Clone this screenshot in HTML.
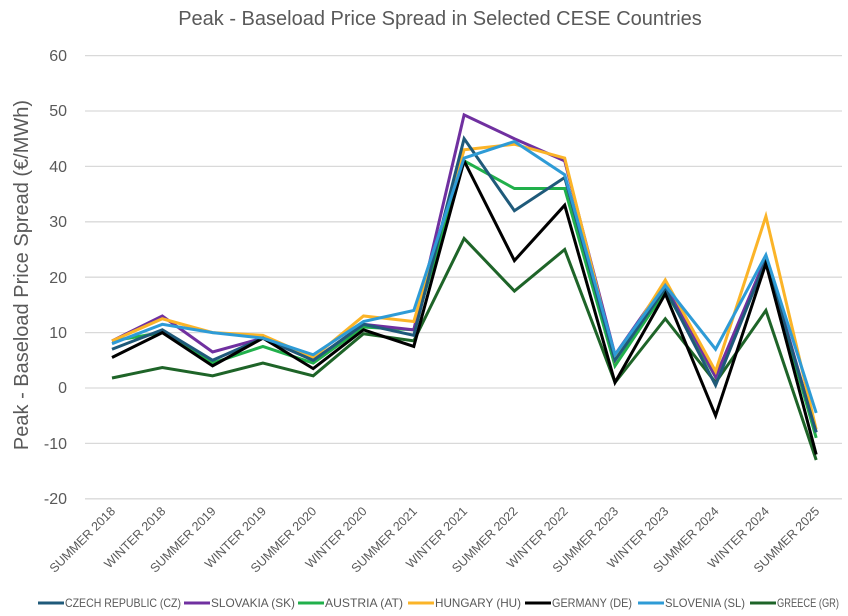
<!DOCTYPE html>
<html><head><meta charset="utf-8"><style>body{margin:0;background:#fff}svg{display:block}</style></head><body>
<svg width="848" height="616" xmlns="http://www.w3.org/2000/svg" font-family="Liberation Sans, sans-serif">
<rect width="848" height="616" fill="#fff"/>
<text x="440" y="25" text-anchor="middle" font-size="20" fill="#595959">Peak - Baseload Price Spread in Selected CESE Countries</text>
<text transform="translate(28,275) rotate(-90)" text-anchor="middle" font-size="20" fill="#595959">Peak - Baseload Price Spread (€/MWh)</text>
<g stroke="#d9d9d9" stroke-width="1.3">
<line x1="85" x2="842" y1="55.6" y2="55.6"/><line x1="85" x2="842" y1="111" y2="111"/><line x1="85" x2="842" y1="166.4" y2="166.4"/><line x1="85" x2="842" y1="221.8" y2="221.8"/><line x1="85" x2="842" y1="277.2" y2="277.2"/><line x1="85" x2="842" y1="332.6" y2="332.6"/><line x1="85" x2="842" y1="388" y2="388"/><line x1="85" x2="842" y1="443.4" y2="443.4"/><line x1="85" x2="842" y1="498.8" y2="498.8"/>
</g>
<g font-size="16" fill="#595959" text-anchor="end">
<text x="67" y="61">60</text><text x="67" y="116">50</text><text x="67" y="172">40</text><text x="67" y="227">30</text><text x="67" y="283">20</text><text x="67" y="338">10</text><text x="67" y="393">0</text><text x="67" y="449">-10</text><text x="67" y="504">-20</text>
</g>
<g id="xl" font-size="12.5" fill="#595959" text-anchor="end"></g>
<g id="lines" fill="none" stroke-width="3" stroke-linejoin="miter"></g>
<g font-size="12" fill="#595959">
<line x1="38" x2="64" y1="603" y2="603" stroke="#1f5a7a" stroke-width="3"/><text x="65" y="607" textLength="116" lengthAdjust="spacingAndGlyphs">CZECH REPUBLIC (CZ)</text>
<line x1="184" x2="210" y1="603" y2="603" stroke="#7030a0" stroke-width="3"/><text x="211" y="607" textLength="84" lengthAdjust="spacingAndGlyphs">SLOVAKIA (SK)</text>
<line x1="298" x2="324" y1="603" y2="603" stroke="#21b04b" stroke-width="3"/><text x="325" y="607" textLength="78" lengthAdjust="spacingAndGlyphs">AUSTRIA (AT)</text>
<line x1="408" x2="434" y1="603" y2="603" stroke="#fbb428" stroke-width="3"/><text x="435" y="607" textLength="86" lengthAdjust="spacingAndGlyphs">HUNGARY (HU)</text>
<line x1="525" x2="551" y1="603" y2="603" stroke="#000" stroke-width="3"/><text x="552" y="607" textLength="80" lengthAdjust="spacingAndGlyphs">GERMANY (DE)</text>
<line x1="638" x2="664" y1="603" y2="603" stroke="#2e9bd6" stroke-width="3"/><text x="665" y="607" textLength="80" lengthAdjust="spacingAndGlyphs">SLOVENIA (SL)</text>
<line x1="750" x2="776" y1="603" y2="603" stroke="#1e6428" stroke-width="3"/><text x="777" y="607" textLength="62" lengthAdjust="spacingAndGlyphs">GREECE (GR)</text>
</g>
</svg>
<script>
const cats=["SUMMER 2018","WINTER 2018","SUMMER 2019","WINTER 2019","SUMMER 2020","WINTER 2020","SUMMER 2021","WINTER 2021","SUMMER 2022","WINTER 2022","SUMMER 2023","WINTER 2023","SUMMER 2024","WINTER 2024","SUMMER 2025"];
const X=i=>112+i*50.3, Y=v=>388-5.54*v;
const ns="http://www.w3.org/2000/svg";
const xl=document.getElementById('xl');
cats.forEach((c,i)=>{const t=document.createElementNS(ns,'text');const x=X(i)+4,y=512;t.setAttribute('transform',`translate(${x},${y}) rotate(-45)`);t.textContent=c;xl.appendChild(t);});
const S=[
["#1e6428",[1.8,3.7,2.2,4.5,2.2,9.8,8.5,27,17.5,25,1,12.5,1,14,-13]],
["#21b04b",[8.5,10,4.5,7.5,4.5,11,10.5,41,36,36,4,17.5,2,23,-9]],
["#7030a0",[8.5,13,6.5,9,5,11.5,10.5,49.3,45,41,6,19,2,23.5,-8]],
["#fbb428",[8.5,12.5,10,9.5,5.5,13,12,43,44,41.5,5,19.5,3,31,-7.5]],
["#1f5a7a",[7,10.5,5,9,5,11.5,9.5,45,32,38,5,18,0.5,23,-8]],
["#000000",[5.5,10,4,9,3.5,10.5,7.5,41,23,33,1,17,-5,22.5,-12]],
["#2e9bd6",[8,11.5,10,9,6,12,14,41.5,44.5,38.5,6,18.5,7,24,-4.5]]];
const g=document.getElementById('lines');
S.forEach(([c,d])=>{const p=document.createElementNS(ns,'polyline');p.setAttribute('points',d.map((v,i)=>X(i)+','+Y(v)).join(' '));p.setAttribute('stroke',c);g.appendChild(p);});
</script>
</body></html>
